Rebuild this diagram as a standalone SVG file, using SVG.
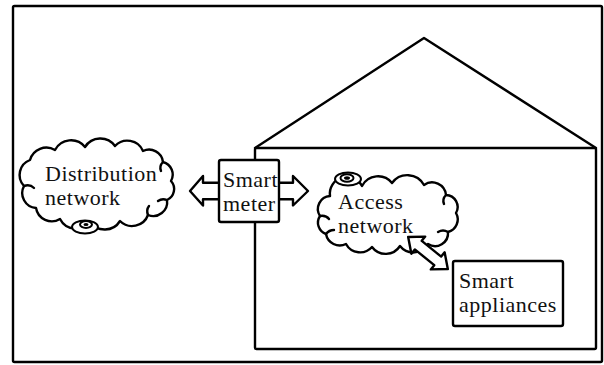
<svg xmlns="http://www.w3.org/2000/svg" width="604" height="365" viewBox="0 0 604 365">
<style>
.ln{fill:none;stroke:#000;stroke-width:2.4;stroke-linejoin:round;stroke-linecap:round}
.wf{fill:#fff;stroke:#000;stroke-width:2.4;stroke-linejoin:round}
.ic{fill:#fff;stroke:#000;stroke-width:2}
.t{font-family:"Liberation Serif","Times New Roman",serif;font-size:22px;letter-spacing:0.5px;fill:#111}
</style>
<rect id="frame" x="13" y="6" width="589" height="356" rx="1.5" class="ln"/>
<g id="house">
<polyline class="ln" points="255,148 424,38 596,148"/>
<rect x="255" y="148" width="341" height="201" rx="1.5" class="ln"/>
</g>
<g id="distribution-network">
<path class="wf" d="M30,160 A17,17 0 0 1 55,150 A18,18 0 0 1 85,147 A18,18 0 0 1 115,146 A17,17 0 0 1 143,151 A14,14 0 0 1 163,162 A13,13 0 0 1 171,181 A12,12 0 0 1 167,200 A14,14 0 0 1 148,215 A17,17 0 0 1 120,221 A18,18 0 0 1 90,222 A18,18 0 0 1 60,219 A16,16 0 0 1 36,208 A15,15 0 0 1 24,186 A16,16 0 0 1 30,160 Z"/>
<path class="ln" d="M24,186 q6,-2 10,2 M163,162 q-4,4 -2,9 M167,200 q-5,-2 -9,1 M148,215 q-2,-5 1,-9"/>
<ellipse class="ic" cx="85" cy="227" rx="13" ry="6.5"/>
<ellipse class="ic" cx="86" cy="224.5" rx="6" ry="3.5"/>
<ellipse cx="86" cy="224.5" rx="2.5" ry="1.5" fill="#000"/>
<text class="t" x="45" y="180.5">Distribution</text>
<text class="t" x="45" y="204.5">network</text>
</g>
<g id="connectors">
<polyline class="wf" points="219,182.7 203,182.7 203,176 190,191 203,205.5 203,199.3 219,199.3"/>
<polyline class="wf" points="279,182.7 293,182.7 293,176 308,191 293,205.5 293,199.3 279,199.3"/>
</g>
<g id="smart-meter">
<rect class="wf" x="219" y="160" width="60" height="62" rx="2"/>
<text class="t" x="223" y="187">Smart</text>
<text class="t" x="223" y="211">meter</text>
</g>
<g id="access-network">
<path class="wf" d="M330,196 A17,17 0 0 1 362,186 A18,18 0 0 1 392,183 A19,19 0 0 1 424,185 A14,14 0 0 1 446,195 A12,12 0 0 1 456,213 A13,13 0 0 1 448,232 A13,13 0 0 1 428,244 A17,17 0 0 1 400,246 A17,17 0 0 1 372,247 A16,16 0 0 1 346,244 A14,14 0 0 1 326,234 A12,12 0 0 1 320,216 A13,13 0 0 1 330,196 Z"/>
<path class="ln" d="M320,216 q6,-1 9,3 M446,195 q-4,4 -2,9 M448,232 q-5,-3 -10,0 M326,234 q3,-4 8,-4"/>
<ellipse class="ic" cx="348" cy="179" rx="13" ry="6.5"/>
<ellipse class="ic" cx="347" cy="178" rx="6.5" ry="3.8"/>
<ellipse cx="347" cy="178" rx="3" ry="1.8" fill="#000"/>
<text class="t" x="338" y="209">Access</text>
<text class="t" x="338" y="233">network</text>
</g>
<g id="connector-access-appliances">
<polygon class="wf" transform="translate(428,253) rotate(39)" points="-25.5,0 -12.5,-11 -12.5,-5.5 12.5,-5.5 12.5,-11 25.5,0 12.5,11 12.5,5.5 -12.5,5.5 -12.5,11"/>
</g>
<g id="smart-appliances">
<rect class="wf" x="453" y="261" width="110" height="65" rx="2"/>
<text class="t" x="459" y="288">Smart</text>
<text class="t" x="459" y="312">appliances</text>
</g>
</svg>
